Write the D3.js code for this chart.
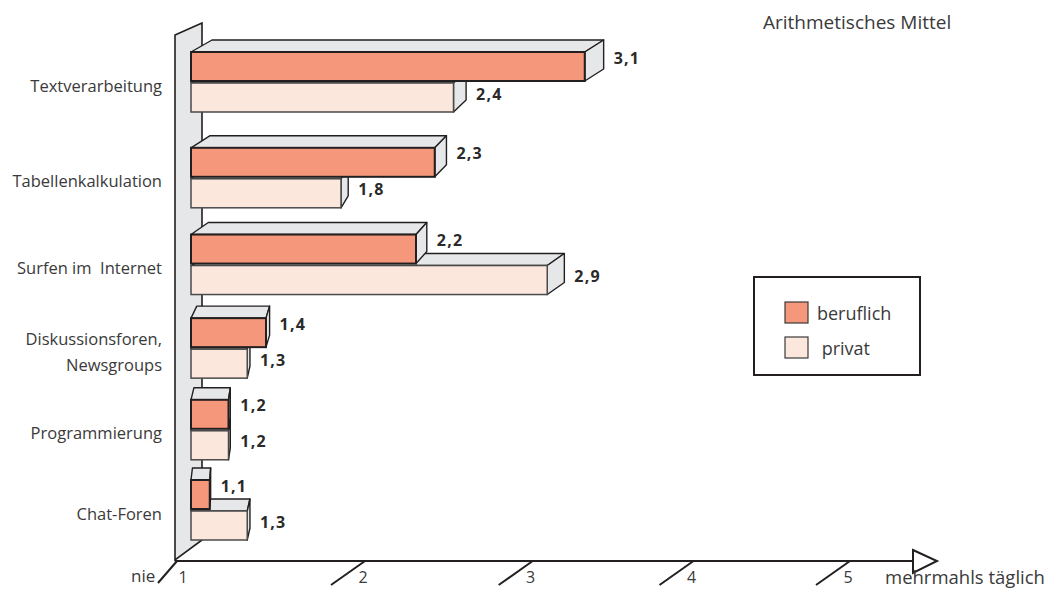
<!DOCTYPE html>
<html>
<head>
<meta charset="utf-8">
<script src="https://cdn.jsdelivr.net/npm/d3@7"></script>
<style>
  html, body { margin: 0; padding: 0; background: #fff; }
  svg { display: block; font-family: "Open Sans", "Noto Sans", sans-serif; }
</style>
</head>
<body>
<script>
// Nutzungshäufigkeit (Mittelwerte, Skala 1 = nie … 5 = mehrmahls täglich)
const categories = [
  "Textverarbeitung",
  "Tabellenkalkulation",
  "Surfen im  Internet",
  "Diskussionsforen,\nNewsgroups",
  "Programmierung",
  "Chat-Foren"
];
const beruflich = [3.1, 2.3, 2.2, 1.4, 1.2, 1.1];
const privat    = [2.4, 1.8, 2.9, 1.3, 1.2, 1.3];
const seriesNames  = ["beruflich", "privat"];
const legendLabels = ["beruflich", " privat"];
const scaleTicks   = [1, 2, 3, 4, 5];
const scaleEnds    = ["nie", "mehrmahls täglich"];
const title        = "Arithmetisches Mittel";

const W = 1050, H = 589;
const ink = "#231f20", textInk = "#3a3a3a";
const sideFill = "#e6e7e9";
const colors = { beruflich: "#f5977a", privat: "#fce7dd" };
const strokes = { beruflich: "#231f20", privat: "#4a4a4a" };

const svg = d3.select("body").append("svg")
  .attr("width", W).attr("height", H);

// value axis for the bars
const x = d3.scaleLinear().domain([1, 5]).range([191, 941]);
// category centres, slightly compressed toward the floor (perspective)
const y = d3.scalePow().exponent(0.93)
  .domain([0, categories.length - 1]).range([82, 510]);
// floor scale with its own foreshortening
const floorX = d3.scalePow().exponent(0.92).domain([0, 4]).range([177, 850]);
const tickX = v => floorX(v - 1);

const barH = 29, halfGap = 1, depthY = 12;
const fmt = v => d3.format(".1f")(v).replace(".", ",");

// back wall
svg.append("polygon")
  .attr("points", [[175, 35], [202, 23], [202, 540], [175, 560]].join(" "))
  .attr("fill", sideFill).attr("stroke", ink).attr("stroke-width", 1.6)
  .attr("stroke-linejoin", "miter");

// floor axis line with open arrow head
svg.append("line")
  .attr("x1", 175).attr("y1", 561).attr("x2", 914).attr("y2", 561)
  .attr("stroke", ink).attr("stroke-width", 2);
svg.append("polygon")
  .attr("points", [[913, 550], [937, 561], [913, 573]].join(" "))
  .attr("fill", "#fff").attr("stroke", ink).attr("stroke-width", 2);

// slanted floor ticks
svg.append("g").selectAll("line").data(scaleTicks).join("line")
  .attr("x1", d => tickX(d)).attr("y1", 561)
  .attr("x2", (d, i) => tickX(d) - (i === 0 ? 19 : 34))
  .attr("y2", (d, i) => 561 + (i === 0 ? 22 : 24))
  .attr("stroke", ink).attr("stroke-width", 2);

svg.append("g").selectAll("text").data(scaleTicks).join("text")
  .attr("x", (d, i) => tickX(d) + (i === 0 ? 6 : -2))
  .attr("y", 583)
  .attr("text-anchor", "middle")
  .attr("font-size", 16).attr("fill", textInk)
  .text(d => d);

svg.append("text").attr("x", 131).attr("y", 575)
  .attr("dominant-baseline", "central")
  .attr("font-size", 17).attr("fill", textInk).text(scaleEnds[0]);
svg.append("text").attr("x", 885).attr("y", 576)
  .attr("dominant-baseline", "central")
  .attr("font-size", 18.5).attr("fill", textInk).text(scaleEnds[1]);

svg.append("text").attr("x", 763).attr("y", 22)
  .attr("dominant-baseline", "central")
  .attr("font-size", 19).attr("fill", textInk).text(title);

// one 3-D bar: top face, right face, front face
function drawBar(g, v, top, series) {
  const x0 = x(1), x1 = x(v), len = x1 - x0;
  const dr = len * 0.048;
  const dl = Math.min(21, dr * 1.6);
  const bottom = top + barH;
  g.append("polygon")
    .attr("points", [[x0, top], [x1, top], [x1 + dr, top - depthY], [x0 + dl, top - depthY]].join(" "))
    .attr("fill", sideFill).attr("stroke", ink).attr("stroke-width", 1.4)
    .attr("stroke-linejoin", "round");
  g.append("polygon")
    .attr("points", [[x1, top], [x1 + dr, top - depthY], [x1 + dr, bottom - depthY], [x1, bottom]].join(" "))
    .attr("fill", sideFill).attr("stroke", ink).attr("stroke-width", 1.4)
    .attr("stroke-linejoin", "round");
  g.append("rect")
    .attr("x", x0).attr("y", top).attr("width", len).attr("height", barH)
    .attr("fill", colors[series]).attr("stroke", strokes[series])
    .attr("stroke-width", series === "beruflich" ? 2 : 1.5);
  g.append("text")
    .attr("x", x1 + dr + 10)
    .attr("y", top + barH / 2 + (series === "beruflich" ? -9 : -4))
    .attr("dominant-baseline", "central")
    .attr("font-size", 16).attr("font-weight", "bold")
    .attr("letter-spacing", 1.2).attr("fill", "#2a2a2a")
    .text(fmt(v));
}

const bars = svg.append("g");
categories.forEach((c, i) => {
  const cy = y(i);
  const g = bars.append("g");
  // lower (privat) bar first so the upper bar's side overlaps its top face
  drawBar(g, privat[i], cy + halfGap, "privat");
  drawBar(g, beruflich[i], cy - halfGap - barH, "beruflich");
});

// category labels
svg.append("g").selectAll("text").data(categories).join("text")
  .attr("x", 162)
  .attr("y", (d, i) => y(i) + 3)
  .attr("text-anchor", "end")
  .attr("font-size", 16.5).attr("fill", textInk)
  .style("white-space", "pre")
  .each(function (d) {
    const lines = d.split("\n");
    const t = d3.select(this);
    lines.forEach((ln, k) => {
      t.append("tspan")
        .attr("x", 162)
        .attr("dy", k === 0 ? (-(lines.length - 1) * 26 / 2) : 26)
        .attr("dominant-baseline", "central")
        .text(ln);
    });
  });

// legend
const legend = svg.append("g");
legend.append("rect")
  .attr("x", 754).attr("y", 277).attr("width", 166).attr("height", 98)
  .attr("fill", "#fff").attr("stroke", ink).attr("stroke-width", 2);
const items = legend.selectAll("g.item").data(seriesNames).join("g")
  .attr("class", "item")
  .attr("transform", (d, i) => `translate(785, ${302 + i * 35})`);
items.append("rect")
  .attr("width", 23).attr("height", 21)
  .attr("fill", d => colors[d]).attr("stroke", "#3a3a3a").attr("stroke-width", 1.2);
items.append("text")
  .attr("x", 32).attr("y", 10.5)
  .attr("dominant-baseline", "central")
  .attr("font-size", 18).attr("fill", textInk)
  .style("white-space", "pre")
  .text((d, i) => legendLabels[i]);
</script>
</body>
</html>
